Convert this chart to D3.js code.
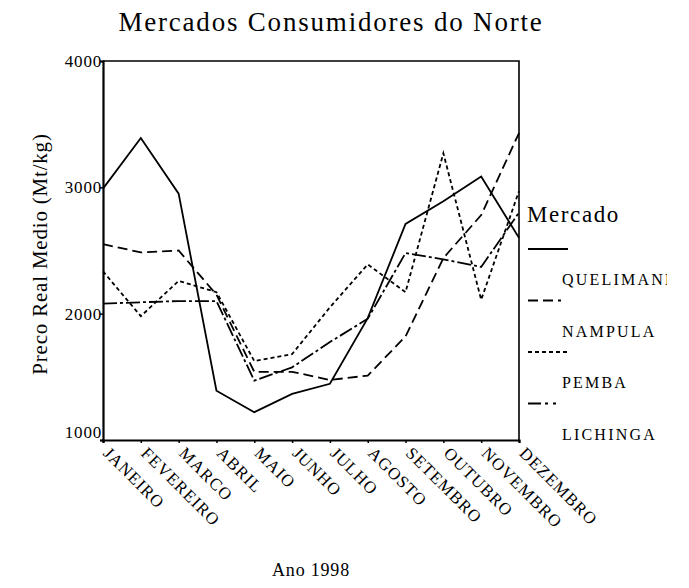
<!DOCTYPE html>
<html>
<head>
<meta charset="utf-8">
<script src="https://cdn.jsdelivr.net/npm/d3@7"></script>
<style>
  body { margin: 0; background: #fff; }
  svg { display: block; }
</style>
</head>
<body>
<svg id="chart"></svg>
<script>
const months = ["JANEIRO", "FEVEREIRO", "MARCO", "ABRIL", "MAIO", "JUNHO",
  "JULHO", "AGOSTO", "SETEMBRO", "OUTUBRO", "NOVEMBRO", "DEZEMBRO"];
const mercados = ["QUELIMANE", "NAMPULA", "PEMBA", "LICHINGA"];

const quelimane = [2990, 3390, 2950, 1390, 1220, 1365, 1445, 1965, 2710, 2890, 3085, 2600];
const nampula   = [2550, 2485, 2500, 2150, 1540, 1540, 1475, 1510, 1820, 2440, 2780, 3430];
const pemba     = [2335, 1980, 2260, 2170, 1625, 1680, 2050, 2390, 2170, 3270, 2110, 2970];
const lichinga  = [2080, 2090, 2100, 2100, 1470, 1575, 1775, 1960, 2480, 2430, 2370, 2800];

const yTicks = [1000, 2000, 3000, 4000];
const dashes = [null, "10,5", "4,3", "14,3,3,3"];
const legendDashes = [null, "10,5,10,5,3", "4,3", "13,4,3,5,3"];

const series = [quelimane, nampula, pemba, lichinga];

const width = 689, height = 588;
const serif = "Liberation Serif";

const svg = d3.select("#chart")
    .attr("width", width)
    .attr("height", height)
    .attr("font-family", serif);

const x = d3.scalePoint().domain(months).range([103, 519]);
const y = d3.scaleLinear().domain([1000, 4000]).range([440, 61]);

// title
svg.append("text")
    .attr("x", 331)
    .attr("y", 31)
    .attr("text-anchor", "middle")
    .attr("font-size", 27)
    .attr("letter-spacing", 1.8)
    .text("Mercados Consumidores do Norte");

// frame top + right
svg.append("path")
    .attr("fill", "none")
    .attr("stroke", "#000")
    .attr("stroke-width", 1.6)
    .attr("d", `M${x.range()[0]},${y(4000)}H${x.range()[1]}V${y(1000)}`);

// lines
const line = d3.line()
    .x((d, i) => x(months[i]))
    .y(d => y(d));

svg.append("g")
    .attr("fill", "none")
    .attr("stroke", "#000")
    .attr("stroke-width", 1.8)
  .selectAll("path")
    .data(series)
    .join("path")
      .attr("stroke-dasharray", (d, i) => dashes[i])
      .attr("d", line);

// y axis
const yAxis = svg.append("g")
    .attr("transform", `translate(${x.range()[0]},0)`)
    .call(d3.axisLeft(y).tickValues(yTicks).tickSize(3).tickFormat(d3.format("d")));
yAxis.select(".domain").attr("stroke-width", 2.2);
yAxis.selectAll(".tick line").attr("stroke-width", 1.5);
yAxis.selectAll(".tick text")
    .attr("font-family", serif)
    .attr("font-size", 17)
    .attr("letter-spacing", 0.8)
    .attr("x", -1)
    .attr("dy", d => d === 1000 ? "-0.12em" : "0.32em")
    .attr("fill", "#000");

// x axis
const xAxis = svg.append("g")
    .attr("transform", `translate(0,${y(1000)})`)
    .call(d3.axisBottom(x).tickSize(3));
xAxis.select(".domain").attr("stroke-width", 2.2);
xAxis.selectAll(".tick line").attr("stroke-width", 1.5);
xAxis.selectAll(".tick text")
    .attr("font-family", serif)
    .attr("font-size", 17)
    .attr("letter-spacing", 1.1)
    .attr("fill", "#000")
    .attr("text-anchor", "start")
    .attr("transform", "translate(3,10) rotate(45)")
    .attr("x", 0)
    .attr("y", 0)
    .attr("dy", "0.35em");

// axis titles
svg.append("text")
    .attr("transform", "translate(47,254) rotate(-90)")
    .attr("text-anchor", "middle")
    .attr("font-size", 21)
    .attr("letter-spacing", 0.8)
    .text("Preco Real Medio (Mt/kg)");

svg.append("text")
    .attr("x", 311)
    .attr("y", 576)
    .attr("text-anchor", "middle")
    .attr("font-size", 18)
    .attr("letter-spacing", 0.8)
    .text("Ano 1998");

// legend
svg.append("clipPath")
    .attr("id", "legclip")
  .append("rect")
    .attr("x", 0).attr("y", 0)
    .attr("width", 667).attr("height", height);

const legend = svg.append("g")
    .attr("clip-path", "url(#legclip)");

legend.append("text")
    .attr("x", 527)
    .attr("y", 222)
    .attr("font-size", 23)
    .attr("letter-spacing", 1.6)
    .text("Mercado");

const item = legend.selectAll("g.item")
    .data(mercados)
    .join("g")
      .attr("class", "item")
      .attr("transform", (d, i) => `translate(0,${249 + i * 51.5})`);

item.append("line")
    .attr("x1", 528).attr("x2", 568)
    .attr("y1", 0).attr("y2", 0)
    .attr("stroke", "#000")
    .attr("stroke-width", 1.8)
    .attr("stroke-dasharray", (d, i) => legendDashes[i]);

item.append("text")
    .attr("x", 562)
    .attr("y", 36)
    .attr("font-size", 16)
    .attr("letter-spacing", 2.2)
    .text(d => d);
</script>
</body>
</html>
